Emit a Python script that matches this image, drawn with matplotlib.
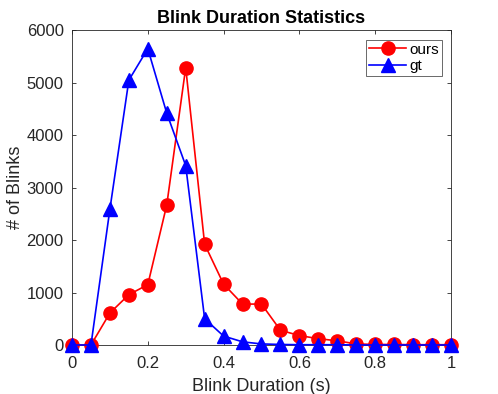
import matplotlib
matplotlib.use("Agg")
import matplotlib.pyplot as plt

plt.rcParams['font.family'] = ['Liberation Sans', 'DejaVu Sans']

durations = [0.0, 0.05, 0.1, 0.15, 0.2, 0.25, 0.3, 0.35, 0.4, 0.45, 0.5,
             0.55, 0.6, 0.65, 0.7, 0.75, 0.8, 0.85, 0.9, 0.95, 1.0]
ours = [0, 0, 610, 960, 1150, 2670, 5290, 1920, 1160, 780, 780,
        280, 180, 120, 80, 20, 10, 10, 5, 5, 5]
gt = [0, 0, 2590, 5050, 5650, 4420, 3420, 500, 170, 60, 20,
      10, 5, 5, 5, 0, 0, 0, 0, 0, 0]
xticks = [0, 0.2, 0.4, 0.6, 0.8, 1]
yticks = [0, 1000, 2000, 3000, 4000, 5000, 6000]

fig = plt.figure(figsize=(4.98, 3.94), dpi=100)
ax = fig.add_axes([0.1446, 0.1244, 0.761, 0.7986])
ax.plot(durations, ours, '-o', color='red', lw=1.2, ms=9.5, label='ours', clip_on=False, zorder=3)
ax.plot(durations, gt, '-^', color='blue', lw=1.2, ms=10, label='gt', clip_on=False, zorder=4)
ax.set_xlim(0, 1)
ax.set_ylim(0, 6000)
ax.set_xticks(xticks)
ax.set_xticklabels(['0', '0.2', '0.4', '0.6', '0.8', '1'])
ax.set_yticks(yticks)
ax.tick_params(direction='in', top=True, right=True, labelsize=12, colors='#262626', length=3, width=0.6, pad=6)
ax.tick_params(axis='x', pad=8)
for s in ax.spines.values():
    s.set_color('#262626')
    s.set_linewidth(0.6)
ax.set_xlabel('Blink Duration (s)', fontsize=13, color='#262626', labelpad=5)
ax.set_ylabel('# of Blinks', fontsize=13, color='#262626', labelpad=2)
ax.set_title('Blink Duration Statistics', fontsize=13, fontweight='bold', pad=5)
leg = ax.legend(loc='upper right', fontsize=11, frameon=True, fancybox=False, edgecolor='#262626',
                handlelength=2.4, borderpad=0.2, labelspacing=0.15, handletextpad=0.2, borderaxespad=0.6)
leg.get_frame().set_linewidth(0.6)
fig.savefig('out.png', dpi=100)
